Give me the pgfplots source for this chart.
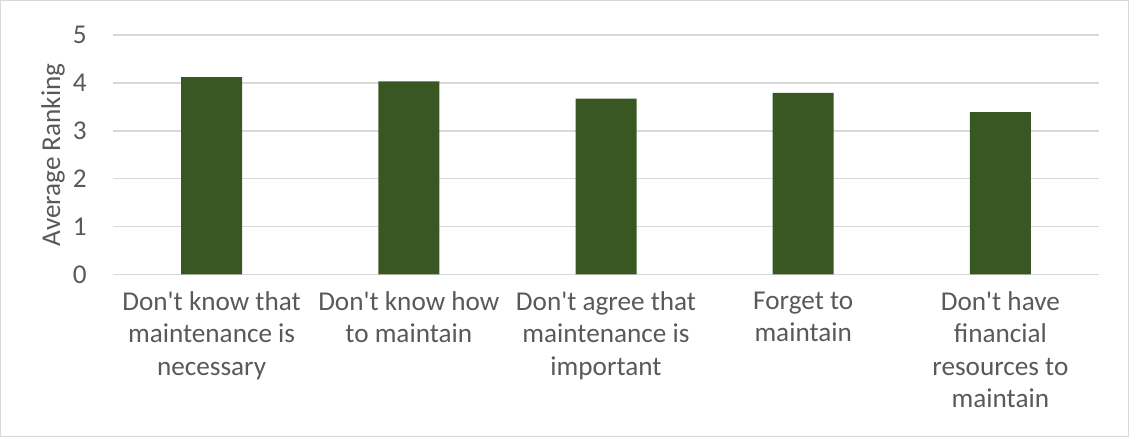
\documentclass[border=0pt]{standalone}
\usepackage{fontspec}
\setmainfont{Carlito}
\usepackage{pgfplots}
\pgfplotsset{compat=1.18}
\definecolor{barc}{RGB}{56,87,35}
\definecolor{gridc}{RGB}{217,217,217}
\definecolor{txt}{RGB}{89,89,89}
\newcommand{\q}{\textquotesingle}
\begin{document}
\begin{tikzpicture}
\useasboundingbox (-56.5pt,-81.25pt) rectangle (508pt,137.25pt);
\draw[gridc, line width=0.6pt] (-56.2pt,-80.95pt) rectangle (507.7pt,136.95pt);
\begin{axis}[
  at={(0pt,0pt)}, anchor=south west,
  scale only axis,
  width=493pt, height=119.75pt,
  xmin=-0.5, xmax=4.5, ymin=0, ymax=5,
  ytick={0,1,2,3,4,5},
  xtick={0,1,2,3,4},
  xticklabels={
    {Don\q t know that\\maintenance is\\necessary},
    {Don\q t know how\\to maintain},
    {Don\q t agree that\\maintenance is\\important},
    {Forget to\\maintain},
    {Don\q t have\\financial\\resources to\\maintain}},
  major tick length=0pt,
  axis line style={draw=none},
  ymajorgrids,
  grid style={gridc, line width=0.8pt},
  /pgf/number format/assume math mode=true,
  tick label style={font=\fontsize{13.6}{16.1}\selectfont, text=txt},
  xticklabel style={align=center, anchor=north, inner sep=0pt, yshift=-8.5pt},
  yticklabel style={anchor=east, inner sep=0pt, xshift=-13pt},
  ylabel={Average Ranking},
  ylabel style={at={([xshift=-30pt]axis description cs:0,0.5)}, anchor=center, rotate=0, font=\fontsize{13.6}{16}\selectfont, text=txt},
  ybar, bar width=30.5pt,
]
\addplot[fill=barc, draw=none] coordinates {(0,4.12) (1,4.03) (2,3.67) (3,3.79) (4,3.39)};
\end{axis}
\end{tikzpicture}
\end{document}
